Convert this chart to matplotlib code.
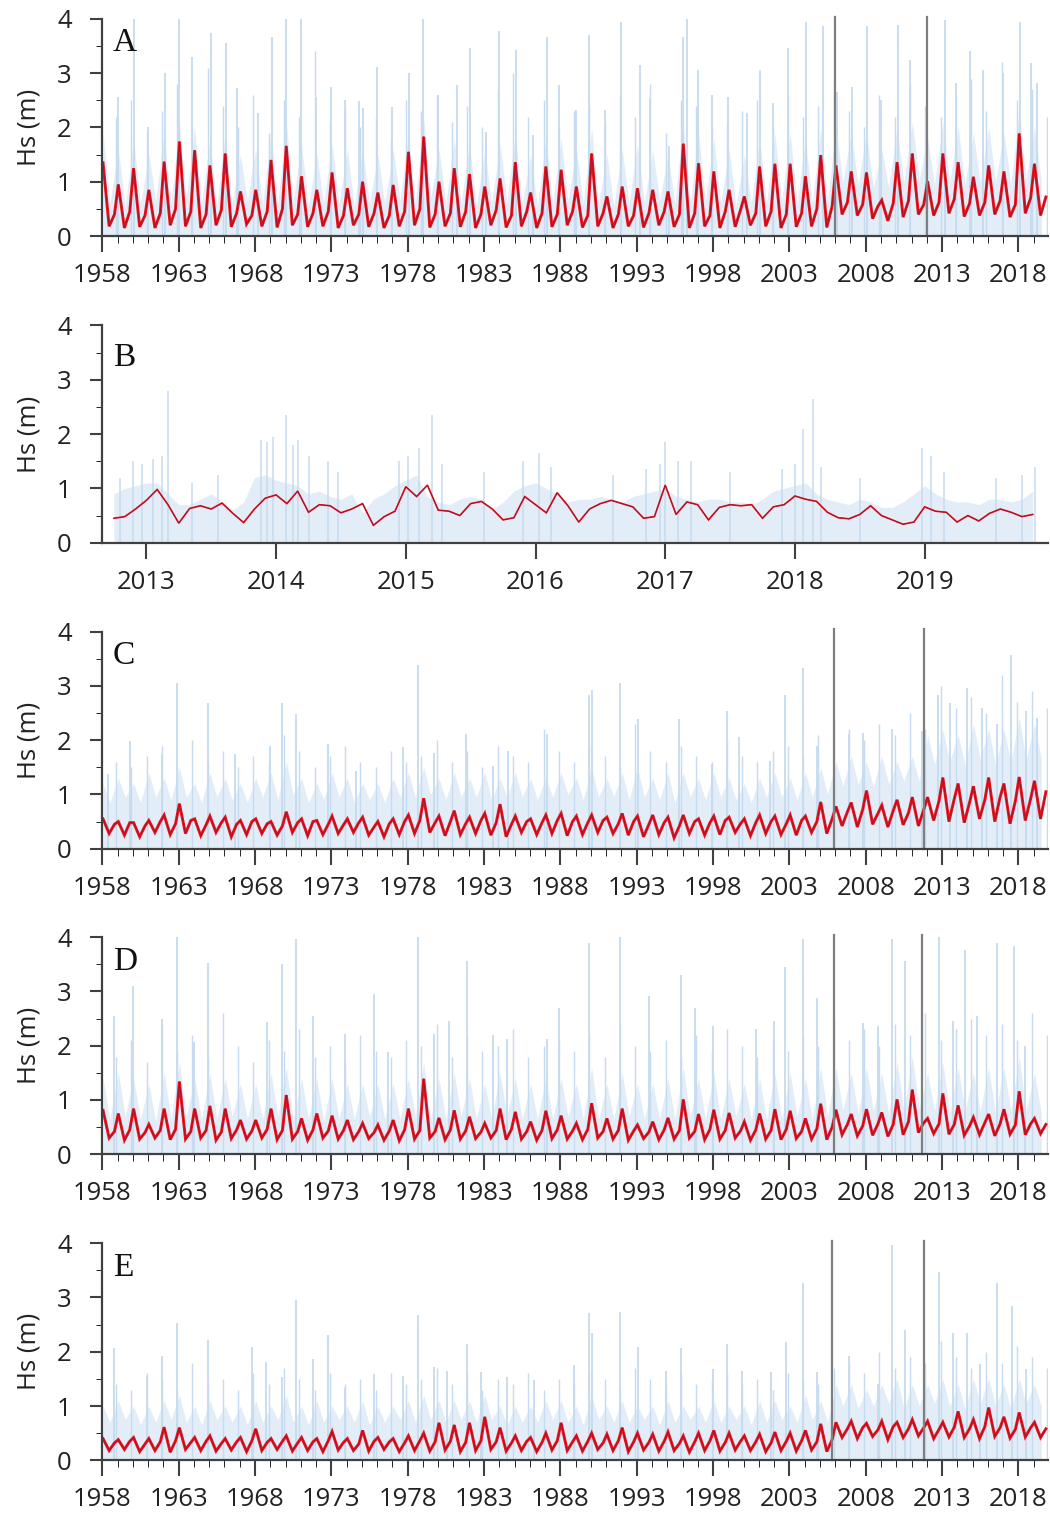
import numpy as np
import matplotlib.pyplot as plt
from matplotlib.ticker import FixedLocator, MultipleLocator

plt.rcParams['font.family'] = ['Open Sans', 'DejaVu Sans']

# === Dane: lata 1958-2019 (panele A, C, D, E) ===
years = np.arange(1958, 2020)

# --- A: czerwona seria (szczyt zimowy, minimum letnie, jesień) ---
a_peak = [1.35, 0.95, 1.25, 0.85, 1.37, 1.74, 1.58, 1.30, 1.52, 0.82,
          0.85, 1.40, 1.66, 1.10, 0.85, 1.17, 0.88, 1.00, 0.80, 0.94,
          1.55, 1.83, 1.00, 1.25, 1.14, 0.91, 1.06, 1.36, 0.80, 1.28,
          1.22, 0.91, 1.52, 0.73, 0.91, 0.88, 0.85, 0.82, 1.70, 1.34,
          1.19, 0.85, 0.73, 1.28, 1.33, 1.33, 1.10, 1.49, 1.30, 1.19,
          1.17, 0.66, 1.36, 1.52, 1.01, 1.52, 1.36, 1.09, 1.30, 1.19, 1.89, 1.33]
a_low = [0.18, 0.15, 0.17, 0.15, 0.20, 0.18, 0.15, 0.20, 0.17, 0.22,
         0.18, 0.16, 0.20, 0.17, 0.18, 0.15, 0.20, 0.17, 0.15, 0.18,
         0.20, 0.16, 0.18, 0.17, 0.15, 0.20, 0.16, 0.18, 0.15, 0.17,
         0.20, 0.16, 0.18, 0.15, 0.18, 0.16, 0.20, 0.17, 0.15, 0.18,
         0.15, 0.17, 0.20, 0.18, 0.15, 0.17, 0.18, 0.16, 0.40, 0.38,
         0.32, 0.28, 0.35, 0.40, 0.38, 0.42, 0.36, 0.38, 0.40, 0.35, 0.42, 0.38]
a_fall = [0.40, 0.45, 0.38, 0.42, 0.50, 0.45, 0.40, 0.48, 0.42, 0.38,
          0.45, 0.50, 0.40, 0.42, 0.45, 0.38, 0.40, 0.42, 0.38, 0.45,
          0.50, 0.40, 0.42, 0.45, 0.40, 0.48, 0.38, 0.45, 0.42, 0.40,
          0.45, 0.38, 0.42, 0.40, 0.38, 0.42, 0.45, 0.40, 0.42, 0.38,
          0.45, 0.48, 0.42, 0.45, 0.40, 0.42, 0.50, 0.55, 0.62, 0.58,
          0.55, 0.60, 0.65, 0.58, 0.62, 0.68, 0.60, 0.62, 0.65, 0.58, 0.70, 0.72]
# tło (dane dobowe): górna granica zimą / latem + sztormy
a_haze_w = [1.9, 1.6, 1.8, 1.5, 1.9, 2.1, 2.0, 1.8, 1.9, 1.5,
            1.6, 1.9, 2.1, 1.7, 1.5, 1.7, 1.6, 1.6, 1.5, 1.6,
            1.9, 2.2, 1.6, 1.8, 1.7, 1.6, 1.7, 1.9, 1.5, 1.8,
            1.8, 1.6, 2.0, 1.5, 1.6, 1.7, 1.6, 1.5, 2.1, 1.9,
            1.8, 1.6, 1.5, 1.8, 1.9, 1.9, 1.8, 2.0, 2.0, 1.9,
            1.9, 1.6, 2.0, 2.1, 1.8, 2.1, 2.0, 1.9, 2.0, 1.9, 2.3, 2.0]
a_haze_s = [0.6, 0.55, 0.6, 0.65, 0.6, 0.7, 0.6, 0.55, 0.6, 0.65,
            0.6, 0.6, 0.65, 0.55, 0.6, 0.6, 0.55, 0.6, 0.6, 0.65,
            0.6, 0.7, 0.6, 0.6, 0.55, 0.6, 0.65, 0.6, 0.55, 0.6,
            0.65, 0.6, 0.6, 0.55, 0.6, 0.6, 0.65, 0.6, 0.6, 0.65,
            0.6, 0.55, 0.6, 0.6, 0.65, 0.6, 0.6, 0.65, 1.0, 0.95,
            0.9, 0.9, 1.0, 1.05, 0.95, 1.0, 0.95, 1.0, 1.0, 0.95, 1.05, 1.0]
a_storm2 = [2.2, 2.5, 1.9, 2.3, 2.8, 2.0, 3.1, 2.4, 2.0, 2.6,
            1.9, 2.5, 2.2, 3.4, 2.1, 2.4, 2.0, 2.2, 1.8, 2.5,
            2.3, 2.6, 2.1, 2.4, 2.0, 2.7, 3.0, 2.2, 2.5, 2.0,
            2.3, 2.4, 2.1, 2.6, 2.2, 2.8, 1.9, 2.5, 2.4, 2.0,
            2.1, 2.3, 2.5, 2.0, 2.6, 2.2, 2.4, 2.9, 2.3, 2.0,
            2.6, 2.2, 2.8, 2.4, 2.2, 2.6, 2.9, 2.3, 3.2, 2.5, 2.7, 2.2]
a_spk_t = [1958.0, 1959.0, 1960.1, 1961.0, 1962.1, 1963.0, 1963.9, 1965.1, 1966.1, 1966.8,
           1968.2, 1969.1, 1970.0, 1971.0, 1972.0, 1973.0, 1973.9, 1974.8, 1975.1, 1976.0,
           1977.0, 1978.1, 1979.0, 1980.0, 1981.2, 1982.1, 1983.1, 1984.0, 1985.1, 1986.2,
           1987.1, 1987.9, 1989.0, 1989.9, 1990.9, 1992.0, 1993.2, 1993.9, 1995.1, 1996.0,
           1996.3, 1997.0, 1997.9, 1999.0, 2000.2, 2001.1, 2001.9, 2002.9, 2004.1, 2005.2,
           2006.1, 2007.1, 2008.1, 2009.0, 2010.1, 2010.9, 2012.0, 2013.2, 2013.9, 2014.8,
           2015.7, 2017.0, 2018.1, 2018.8, 2019.2]
a_spk_h = [2.80, 2.57, 4.00, 2.00, 3.00, 4.00, 3.30, 3.74, 3.55, 2.72,
           2.26, 3.67, 4.00, 4.00, 2.57, 2.75, 2.50, 2.48, 2.35, 3.12,
           2.38, 3.00, 4.00, 2.60, 2.78, 3.46, 1.92, 3.77, 3.43, 1.86,
           3.67, 2.78, 2.32, 3.70, 2.32, 3.95, 3.15, 2.54, 1.65, 3.67,
           4.00, 3.06, 2.60, 2.57, 2.26, 3.06, 2.45, 3.46, 3.95, 3.86,
           2.66, 2.75, 3.86, 2.50, 3.89, 3.24, 3.37, 3.98, 2.81, 3.40,
           3.06, 3.00, 3.95, 3.18, 2.81]
a_breaks = [2006.0, 2012.0]

# --- C ---
c_peak = [0.55, 0.50, 0.48, 0.52, 0.62, 0.83, 0.55, 0.60, 0.58, 0.52,
          0.55, 0.50, 0.68, 0.55, 0.52, 0.60, 0.55, 0.58, 0.50, 0.55,
          0.62, 0.93, 0.60, 0.70, 0.58, 0.65, 0.82, 0.60, 0.55, 0.62,
          0.65, 0.60, 0.62, 0.58, 0.65, 0.60, 0.62, 0.58, 0.62, 0.55,
          0.60, 0.58, 0.55, 0.62, 0.60, 0.62, 0.60, 0.86, 0.78, 0.85,
          1.07, 0.80, 0.90, 0.95, 0.95, 1.31, 1.20, 1.15, 1.31, 1.20, 1.32, 1.25]
c_low = [0.28, 0.25, 0.22, 0.30, 0.26, 0.28, 0.24, 0.30, 0.22, 0.26,
         0.28, 0.25, 0.30, 0.24, 0.26, 0.28, 0.30, 0.25, 0.22, 0.26,
         0.28, 0.30, 0.24, 0.26, 0.28, 0.25, 0.22, 0.30, 0.26, 0.28,
         0.24, 0.26, 0.30, 0.28, 0.25, 0.22, 0.26, 0.20, 0.28, 0.25,
         0.26, 0.30, 0.24, 0.28, 0.26, 0.25, 0.30, 0.28, 0.42, 0.40,
         0.45, 0.40, 0.44, 0.42, 0.52, 0.50, 0.48, 0.55, 0.50, 0.46, 0.52, 0.55]
c_fall = [0.45, 0.48, 0.42, 0.50, 0.46, 0.52, 0.44, 0.48, 0.45, 0.50,
          0.46, 0.42, 0.48, 0.50, 0.45, 0.44, 0.48, 0.40, 0.46, 0.50,
          0.52, 0.48, 0.50, 0.46, 0.52, 0.48, 0.45, 0.50, 0.48, 0.52,
          0.50, 0.48, 0.52, 0.46, 0.50, 0.45, 0.48, 0.42, 0.50, 0.48,
          0.52, 0.46, 0.48, 0.50, 0.46, 0.52, 0.50, 0.55, 0.68, 0.72,
          0.65, 0.70, 0.66, 0.72, 0.88, 0.92, 0.85, 0.90, 0.95, 0.88, 0.92, 1.05]
c_haze_w = [1.2, 1.3, 1.2, 1.4, 1.3, 1.5, 1.2, 1.4, 1.3, 1.2,
            1.3, 1.4, 1.6, 1.3, 1.2, 1.4, 1.3, 1.2, 1.2, 1.3,
            1.4, 1.5, 1.3, 1.4, 1.3, 1.4, 1.3, 1.4, 1.3, 1.3,
            1.4, 1.3, 1.5, 1.3, 1.4, 1.5, 1.3, 1.4, 1.4, 1.3,
            1.4, 1.3, 1.2, 1.3, 1.4, 1.3, 1.4, 1.5, 1.6, 1.7,
            1.6, 1.7, 1.6, 1.7, 2.1, 2.2, 2.1, 2.3, 2.2, 2.2, 2.4, 2.3]
c_haze_s = [0.85, 0.95, 0.85, 0.95, 0.9, 0.95, 0.85, 0.95, 0.9, 0.85,
            0.95, 0.9, 1.0, 0.85, 0.9, 0.95, 0.85, 0.9, 0.85, 0.95,
            0.95, 1.0, 0.9, 0.95, 0.95, 0.9, 0.95, 0.95, 0.9, 0.95,
            1.0, 0.9, 0.95, 0.95, 0.9, 0.95, 0.9, 0.85, 0.95, 0.9,
            0.95, 0.9, 0.85, 0.95, 0.95, 0.9, 0.95, 1.0, 1.15, 1.2,
            1.15, 1.2, 1.25, 1.25, 1.55, 1.6, 1.55, 1.65, 1.55, 1.6, 1.65, 1.65]
c_storm2 = [1.6, 1.5, 1.7, 1.9, 1.5, 2.0, 1.6, 1.8, 1.5, 1.7,
            1.6, 2.1, 1.8, 1.5, 1.7, 1.9, 1.6, 1.5, 1.8, 1.6,
            1.7, 2.0, 1.6, 1.8, 1.5, 1.9, 1.7, 1.6, 2.2, 1.8,
            1.6, 1.9, 1.7, 1.5, 2.3, 1.8, 1.6, 1.9, 1.7, 1.6,
            2.0, 1.7, 1.6, 1.8, 1.9, 1.7, 2.1, 2.4, 2.2, 2.0,
            2.3, 2.1, 2.5, 2.2, 3.0, 2.6, 2.8, 2.5, 3.2, 2.7, 2.9, 2.6]
c_spk_t = [1958.4, 1959.8, 1961.9, 1962.9, 1964.9, 1966.7, 1969.0, 1969.8, 1970.7, 1972.8,
           1974.6, 1977.7, 1978.7, 1979.7, 1981.8, 1983.6, 1984.6, 1987.1, 1989.9, 1990.1,
           1991.9, 1993.1, 1995.8, 1997.9, 1998.9, 1999.7, 2001.7, 2002.7, 2003.9, 2004.8,
           2006.9, 2007.8, 2009.7, 2011.7, 2012.7, 2013.5, 2014.6, 2015.6, 2016.6, 2017.5,
           2018.5, 2019.2]
c_spk_h = [1.38, 1.99, 1.74, 3.05, 2.69, 1.74, 1.90, 2.69, 2.48, 1.93,
           1.44, 1.87, 3.39, 1.77, 2.11, 1.53, 1.80, 2.11, 2.84, 2.93,
           3.05, 2.38, 2.38, 1.56, 2.54, 2.05, 1.62, 2.84, 3.33, 1.90,
           2.11, 2.14, 2.20, 2.17, 2.84, 2.69, 2.96, 2.60, 2.29, 3.57,
           2.54, 2.41]
c_breaks = [2005.9, 2011.8]

# --- D ---
d_peak = [0.81, 0.75, 0.84, 0.55, 0.84, 1.34, 0.84, 0.89, 0.84, 0.63,
          0.63, 0.84, 1.09, 0.66, 0.75, 0.71, 0.63, 0.57, 0.54, 0.63,
          0.84, 1.39, 0.67, 0.81, 0.69, 0.57, 0.84, 0.78, 0.60, 0.80,
          0.71, 0.57, 0.94, 0.66, 0.84, 0.54, 0.60, 0.67, 1.01, 0.74,
          0.82, 0.76, 0.60, 0.75, 0.83, 0.80, 0.66, 0.93, 0.82, 0.74,
          0.83, 0.77, 1.01, 1.19, 0.66, 1.12, 0.90, 0.68, 0.74, 0.83, 1.16, 0.66]
d_low = [0.30, 0.26, 0.28, 0.30, 0.27, 0.28, 0.30, 0.26, 0.29, 0.28,
         0.30, 0.27, 0.28, 0.26, 0.30, 0.28, 0.27, 0.29, 0.26, 0.25,
         0.28, 0.30, 0.27, 0.28, 0.29, 0.30, 0.27, 0.28, 0.26, 0.29,
         0.28, 0.27, 0.30, 0.28, 0.26, 0.29, 0.27, 0.28, 0.30, 0.27,
         0.28, 0.30, 0.26, 0.28, 0.27, 0.29, 0.28, 0.27, 0.36, 0.34,
         0.35, 0.33, 0.36, 0.40, 0.38, 0.37, 0.35, 0.36, 0.34, 0.37, 0.36, 0.38]
d_fall = [0.42, 0.45, 0.40, 0.44, 0.46, 0.42, 0.44, 0.41, 0.45, 0.43,
          0.46, 0.44, 0.42, 0.45, 0.43, 0.44, 0.42, 0.40, 0.43, 0.45,
          0.44, 0.42, 0.45, 0.43, 0.41, 0.44, 0.46, 0.42, 0.44, 0.45,
          0.43, 0.46, 0.42, 0.44, 0.43, 0.41, 0.45, 0.44, 0.42, 0.46,
          0.44, 0.43, 0.45, 0.44, 0.46, 0.42, 0.47, 0.50, 0.55, 0.52,
          0.56, 0.55, 0.60, 0.58, 0.56, 0.55, 0.52, 0.58, 0.56, 0.54, 0.56, 0.55]
d_haze_w = [1.4, 1.5, 1.4, 1.3, 1.5, 1.7, 1.4, 1.5, 1.4, 1.3,
            1.3, 1.5, 1.6, 1.4, 1.4, 1.4, 1.3, 1.3, 1.3, 1.3,
            1.4, 1.7, 1.4, 1.5, 1.4, 1.3, 1.5, 1.4, 1.3, 1.4,
            1.4, 1.3, 1.6, 1.3, 1.5, 1.3, 1.3, 1.4, 1.6, 1.4,
            1.5, 1.4, 1.3, 1.4, 1.5, 1.5, 1.4, 1.6, 1.6, 1.5,
            1.6, 1.5, 1.7, 1.8, 1.5, 1.7, 1.6, 1.5, 1.6, 1.6, 1.8, 1.5]
d_haze_s = [0.65, 0.7, 0.65, 0.6, 0.65, 0.7, 0.65, 0.65, 0.7, 0.65,
            0.65, 0.7, 0.65, 0.65, 0.6, 0.65, 0.65, 0.7, 0.65, 0.65,
            0.7, 0.65, 0.65, 0.7, 0.65, 0.65, 0.7, 0.65, 0.65, 0.65,
            0.7, 0.65, 0.65, 0.65, 0.7, 0.65, 0.65, 0.65, 0.7, 0.65,
            0.65, 0.7, 0.65, 0.65, 0.65, 0.7, 0.65, 0.7, 0.8, 0.75,
            0.8, 0.75, 0.8, 0.85, 0.8, 0.75, 0.8, 0.8, 0.75, 0.8, 0.8, 0.75]
d_storm2 = [1.8, 2.1, 1.7, 2.4, 1.9, 2.2, 1.8, 2.6, 2.0, 1.7,
            2.1, 1.9, 2.3, 1.8, 2.0, 1.7, 2.2, 1.9, 1.8, 2.1,
            2.0, 2.4, 1.8, 2.2, 1.9, 2.0, 2.3, 1.8, 2.0, 2.1,
            1.9, 2.2, 1.8, 2.4, 2.0, 1.9, 2.1, 1.8, 2.2, 1.9,
            2.3, 2.0, 1.8, 2.1, 1.9, 2.2, 2.0, 2.5, 2.1, 2.3,
            2.0, 2.4, 2.2, 2.6, 2.1, 2.3, 2.5, 2.2, 2.4, 2.1, 2.6, 2.2]
d_spk_t = [1958.8, 1960.0, 1961.9, 1962.9, 1964.0, 1964.9, 1968.8, 1969.8, 1970.7, 1971.8,
           1973.9, 1975.8, 1976.7, 1978.7, 1979.7, 1980.7, 1981.9, 1983.6, 1984.5, 1987.1,
           1987.9, 1989.9, 1991.9, 1993.8, 1995.9, 1996.8, 1998.0, 2000.8, 2002.0, 2002.7,
           2003.9, 2004.8, 2007.8, 2008.8, 2009.7, 2010.6, 2012.8, 2013.7, 2014.5, 2015.3,
           2016.6, 2017.7, 2018.4]
d_spk_h = [2.55, 3.10, 2.49, 4.00, 2.06, 3.53, 2.43, 3.50, 3.97, 2.55,
           2.22, 2.95, 1.88, 4.00, 2.22, 2.46, 3.56, 2.19, 2.13, 2.12,
           2.70, 3.90, 4.00, 2.91, 3.31, 2.70, 2.36, 2.30, 2.45, 3.44,
           3.96, 2.88, 2.42, 2.36, 3.96, 3.56, 4.00, 2.45, 3.77, 2.55,
           3.90, 3.84, 1.99]
d_breaks = [2005.9, 2011.7]

# --- E ---
e_peak = [0.40, 0.38, 0.42, 0.40, 0.61, 0.60, 0.42, 0.45, 0.40, 0.42,
          0.58, 0.40, 0.45, 0.42, 0.40, 0.53, 0.40, 0.55, 0.42, 0.40,
          0.45, 0.50, 0.69, 0.65, 0.69, 0.80, 0.60, 0.45, 0.42, 0.50,
          0.69, 0.45, 0.50, 0.48, 0.60, 0.50, 0.48, 0.52, 0.45, 0.50,
          0.55, 0.50, 0.45, 0.48, 0.52, 0.50, 0.55, 0.67, 0.70, 0.72,
          0.68, 0.72, 0.70, 0.75, 0.72, 0.70, 0.90, 0.75, 0.97, 0.80, 0.88, 0.70]
e_low = [0.18, 0.20, 0.16, 0.18, 0.15, 0.20, 0.18, 0.17, 0.19, 0.16,
         0.18, 0.20, 0.17, 0.18, 0.16, 0.19, 0.18, 0.17, 0.20, 0.16,
         0.18, 0.17, 0.19, 0.16, 0.18, 0.20, 0.17, 0.18, 0.16, 0.19,
         0.18, 0.17, 0.20, 0.18, 0.16, 0.19, 0.17, 0.18, 0.15, 0.18,
         0.17, 0.19, 0.18, 0.16, 0.18, 0.17, 0.19, 0.16, 0.42, 0.40,
         0.44, 0.38, 0.42, 0.45, 0.40, 0.43, 0.42, 0.40, 0.44, 0.41, 0.43, 0.42]
e_fall = [0.32, 0.35, 0.30, 0.34, 0.36, 0.33, 0.35, 0.31, 0.34, 0.36,
          0.33, 0.35, 0.32, 0.34, 0.36, 0.33, 0.30, 0.35, 0.34, 0.32,
          0.36, 0.34, 0.35, 0.33, 0.36, 0.34, 0.32, 0.35, 0.33, 0.36,
          0.34, 0.35, 0.32, 0.36, 0.34, 0.33, 0.35, 0.31, 0.34, 0.36,
          0.33, 0.35, 0.34, 0.32, 0.35, 0.36, 0.34, 0.38, 0.58, 0.60,
          0.56, 0.62, 0.58, 0.60, 0.57, 0.61, 0.58, 0.62, 0.60, 0.57, 0.60, 0.58]
e_haze_w = [1.0, 1.1, 1.0, 1.0, 1.1, 1.2, 1.0, 1.1, 1.0, 1.0,
            1.1, 1.0, 1.2, 1.0, 1.1, 1.0, 1.0, 1.1, 1.0, 1.0,
            1.1, 1.2, 1.1, 1.1, 1.1, 1.2, 1.0, 1.0, 1.0, 1.1,
            1.1, 1.0, 1.2, 1.0, 1.1, 1.0, 1.0, 1.1, 1.0, 1.0,
            1.1, 1.0, 1.0, 1.1, 1.1, 1.0, 1.2, 1.1, 1.4, 1.4,
            1.3, 1.4, 1.5, 1.4, 1.4, 1.5, 1.4, 1.5, 1.5, 1.4, 1.5, 1.4]
e_haze_s = [0.7, 0.75, 0.65, 0.7, 0.75, 0.7, 0.65, 0.75, 0.7, 0.65,
            0.7, 0.75, 0.7, 0.65, 0.7, 0.75, 0.7, 0.65, 0.7, 0.75,
            0.7, 0.75, 0.7, 0.75, 0.7, 0.75, 0.65, 0.7, 0.7, 0.75,
            0.7, 0.65, 0.75, 0.7, 0.7, 0.75, 0.65, 0.7, 0.75, 0.7,
            0.7, 0.75, 0.65, 0.7, 0.75, 0.7, 0.75, 0.7, 1.0, 0.95,
            1.0, 1.05, 0.95, 1.0, 1.05, 1.0, 0.95, 1.05, 1.0, 0.95, 1.05, 1.0]
e_storm2 = [1.4, 1.3, 1.6, 1.5, 1.3, 1.8, 1.4, 1.5, 1.3, 1.6,
            1.4, 1.7, 1.5, 1.3, 1.6, 1.4, 1.5, 1.3, 1.6, 1.4,
            1.5, 1.7, 1.4, 1.6, 1.3, 1.5, 1.4, 1.6, 1.3, 1.5,
            1.4, 1.6, 1.5, 1.3, 1.7, 1.5, 1.4, 1.6, 1.4, 1.5,
            1.6, 1.4, 1.5, 1.3, 1.6, 1.5, 1.4, 1.7, 1.8, 1.6,
            2.0, 1.7, 1.9, 1.8, 2.2, 1.9, 1.7, 2.0, 1.8, 2.1, 1.9, 1.7]
e_spk_t = [1958.8, 1960.9, 1961.9, 1962.9, 1964.9, 1967.8, 1968.7, 1969.8, 1970.7, 1971.8,
           1972.8, 1973.9, 1975.8, 1977.7, 1978.7, 1979.7, 1980.6, 1981.9, 1982.8, 1984.5,
           1986.3, 1988.9, 1989.9, 1990.1, 1991.9, 1993.1, 1994.9, 1995.9, 1998.0, 1998.9,
           1999.9, 2001.8, 2002.8, 2003.9, 2004.8, 2006.9, 2008.8, 2009.7, 2010.6, 2012.8,
           2013.7, 2014.6, 2015.5, 2016.6, 2017.6, 2018.5]
e_spk_h = [2.06, 1.56, 1.93, 2.53, 2.21, 2.09, 1.81, 1.53, 2.96, 1.87,
           2.31, 1.34, 1.59, 1.56, 2.68, 1.72, 1.65, 2.15, 1.62, 1.53,
           1.47, 1.75, 2.71, 2.34, 2.74, 2.09, 1.65, 2.06, 1.69, 2.15,
           1.65, 1.62, 2.18, 3.27, 1.62, 1.93, 1.41, 3.96, 2.40, 3.46,
           2.34, 2.34, 1.78, 3.27, 2.84, 1.69]
e_breaks = [2005.8, 2011.8]

# === B: okres 2012-2019, wartości miesięczne ===
b_start = 2012.75
b_red = [0.45, 0.48, 0.62,
         0.78, 0.98, 0.70, 0.36, 0.63, 0.68, 0.62, 0.73, 0.54, 0.37, 0.62, 0.82,
         0.88, 0.72, 0.95, 0.56, 0.70, 0.68, 0.55, 0.62, 0.72, 0.32, 0.48, 0.58,
         1.03, 0.85, 1.06, 0.60, 0.58, 0.50, 0.72, 0.76, 0.62, 0.42, 0.46, 0.85,
         0.70, 0.55, 0.92, 0.68, 0.38, 0.62, 0.72, 0.78, 0.72, 0.66, 0.45, 0.48,
         1.06, 0.52, 0.75, 0.70, 0.42, 0.65, 0.70, 0.68, 0.70, 0.45, 0.66, 0.70,
         0.86, 0.80, 0.76, 0.56, 0.46, 0.44, 0.52, 0.68, 0.50, 0.42, 0.34, 0.38,
         0.66, 0.58, 0.56, 0.38, 0.50, 0.40, 0.54, 0.62, 0.56, 0.48, 0.52]
b_haze = [0.9, 1.0, 1.05,
          1.1, 1.1, 0.9, 0.7, 0.7, 0.8, 0.9, 0.75, 0.6, 0.75, 1.2, 1.25,
          1.15, 1.1, 1.05, 0.9, 0.95, 0.85, 0.8, 0.9, 0.55, 0.8, 0.9, 1.05,
          1.15, 1.25, 0.85, 0.75, 0.7, 0.8, 0.85, 0.8, 0.6, 0.75, 0.95, 1.05,
          1.1, 1.0, 0.9, 0.75, 0.8, 0.8, 0.85, 0.8, 0.75, 0.85, 0.9, 0.95,
          1.0, 0.85, 0.8, 0.75, 0.8, 0.8, 0.75, 0.75, 0.7, 0.8, 0.95, 1.0,
          1.05, 1.1, 0.9, 0.8, 0.75, 0.7, 0.8, 0.75, 0.65, 0.65, 0.75, 0.9,
          1.05, 0.9, 0.8, 0.75, 0.75, 0.7, 0.8, 0.8, 0.75, 0.8, 0.95]
b_spk_t = [2012.8, 2012.9, 2012.97, 2013.05, 2013.12, 2013.17, 2013.35, 2013.55,
           2013.88, 2013.93, 2013.98, 2014.08, 2014.13, 2014.17, 2014.25, 2014.4,
           2014.48, 2014.95, 2015.02, 2015.1, 2015.2, 2015.28, 2015.6, 2015.9,
           2016.03, 2016.12, 2016.6, 2016.85, 2016.96, 2017.0, 2017.1, 2017.2,
           2017.5, 2017.9, 2018.0, 2018.06, 2018.14, 2018.2, 2018.5, 2018.98,
           2019.05, 2019.15, 2019.55, 2019.75, 2019.85]
b_spk_h = [1.20, 1.50, 1.45, 1.55, 1.60, 2.80, 1.10, 1.25,
           1.90, 1.85, 1.95, 2.35, 1.80, 1.90, 1.60, 1.50,
           1.30, 1.50, 1.60, 1.75, 2.35, 1.45, 1.30, 1.50,
           1.65, 1.40, 1.25, 1.35, 1.45, 1.85, 1.50, 1.50,
           1.30, 1.35, 1.45, 2.10, 2.65, 1.40, 1.20, 1.75,
           1.60, 1.30, 1.20, 1.25, 1.40]
b_ticks = [2013, 2014, 2015, 2016, 2017, 2018, 2019]

RED = '#e8141c'
RED_CORE = '#a3122a'
HAZE = '#e2edf8'
SPIKE = '#c6dbef'
AXC = '#404040'
FS = 18.5


def style(ax, letter, dy):
    ax.set_ylim(0, 4)
    for s in ('top', 'right'):
        ax.spines[s].set_visible(False)
    for s in ('left', 'bottom'):
        ax.spines[s].set_color(AXC)
        ax.spines[s].set_linewidth(1.6)
    ax.set_yticks([0, 1, 2, 3, 4])
    ax.yaxis.set_minor_locator(MultipleLocator(0.5))
    ax.tick_params(axis='both', colors=AXC, labelcolor='#222222', width=1.5,
                   direction='out', labelsize=FS)
    ax.tick_params(axis='y', which='major', length=9, pad=13)
    ax.tick_params(axis='y', which='minor', length=4.5)
    ax.tick_params(axis='x', which='major', length=11.5, pad=8)
    ax.tick_params(axis='x', which='minor', length=5)
    ax.set_ylabel('Hs (m)', fontsize=FS, color='#222222')
    ax.yaxis.set_label_coords(-0.064, 0.5)
    ax.text(0.011, 1 - dy, letter, transform=ax.transAxes, va='top', ha='left',
            family='Liberation Serif', fontsize=24, color='#111111')


def draw_red(ax, t, v, lw):
    ax.plot(t, v, color=RED, lw=lw, solid_joinstyle='miter')
    ax.plot(t, v, color=RED_CORE, lw=0.6)


def long_panel(ax, peak, low, fall, hz_w, hz_s, storm2, spk_t, spk_h, breaks, letter):
    t_hz = np.column_stack([years + 0.05, years + 0.5]).ravel()
    v_hz = np.column_stack([hz_w, hz_s]).ravel()
    t_red = np.column_stack([years + 0.05, years + 0.45, years + 0.8]).ravel()
    v_red = np.column_stack([peak, low, fall]).ravel()
    ax.fill_between(t_hz, 0, v_hz, color=HAZE, lw=0)
    ax.vlines(years + 0.9, 0, storm2, color=SPIKE, lw=1.0)
    ax.vlines(spk_t, 0, spk_h, color=SPIKE, lw=1.3)
    draw_red(ax, t_red, v_red, 2.1)
    for b in breaks:
        ax.axvline(b, ymin=0, ymax=1.01, color='#7f7f7f', lw=1.6, clip_on=False)
    ax.set_xlim(1958, 2019.93)
    ax.xaxis.set_major_locator(FixedLocator(range(1958, 2020, 5)))
    ax.xaxis.set_minor_locator(FixedLocator(range(1958, 2020)))
    style(ax, letter, 0.042)


fig = plt.figure(figsize=(10.5, 15.21), dpi=100)
left, width, h = 0.0974, 0.9006, 0.1428
bottoms = [0.8448, 0.6432, 0.4420, 0.2411, 0.0399]
axA, axB, axC, axD, axE = [fig.add_axes([left, b, width, h]) for b in bottoms]

long_panel(axA, a_peak, a_low, a_fall, a_haze_w, a_haze_s, a_storm2, a_spk_t, a_spk_h, a_breaks, 'A')
long_panel(axC, c_peak, c_low, c_fall, c_haze_w, c_haze_s, c_storm2, c_spk_t, c_spk_h, c_breaks, 'C')
long_panel(axD, d_peak, d_low, d_fall, d_haze_w, d_haze_s, d_storm2, d_spk_t, d_spk_h, d_breaks, 'D')
long_panel(axE, e_peak, e_low, e_fall, e_haze_w, e_haze_s, e_storm2, e_spk_t, e_spk_h, e_breaks, 'E')

# panel B
tb = b_start + np.arange(len(b_red)) / 12
axB.fill_between(tb, 0, b_haze, color=HAZE, lw=0)
axB.vlines(b_spk_t, 0, b_spk_h, color=SPIKE, lw=1.1)
draw_red(axB, tb, b_red, 1.2)
axB.set_xlim(2012.66, 2019.95)
axB.set_xticks(b_ticks)
style(axB, 'B', 0.076)

fig.savefig('out.png', dpi=100)
